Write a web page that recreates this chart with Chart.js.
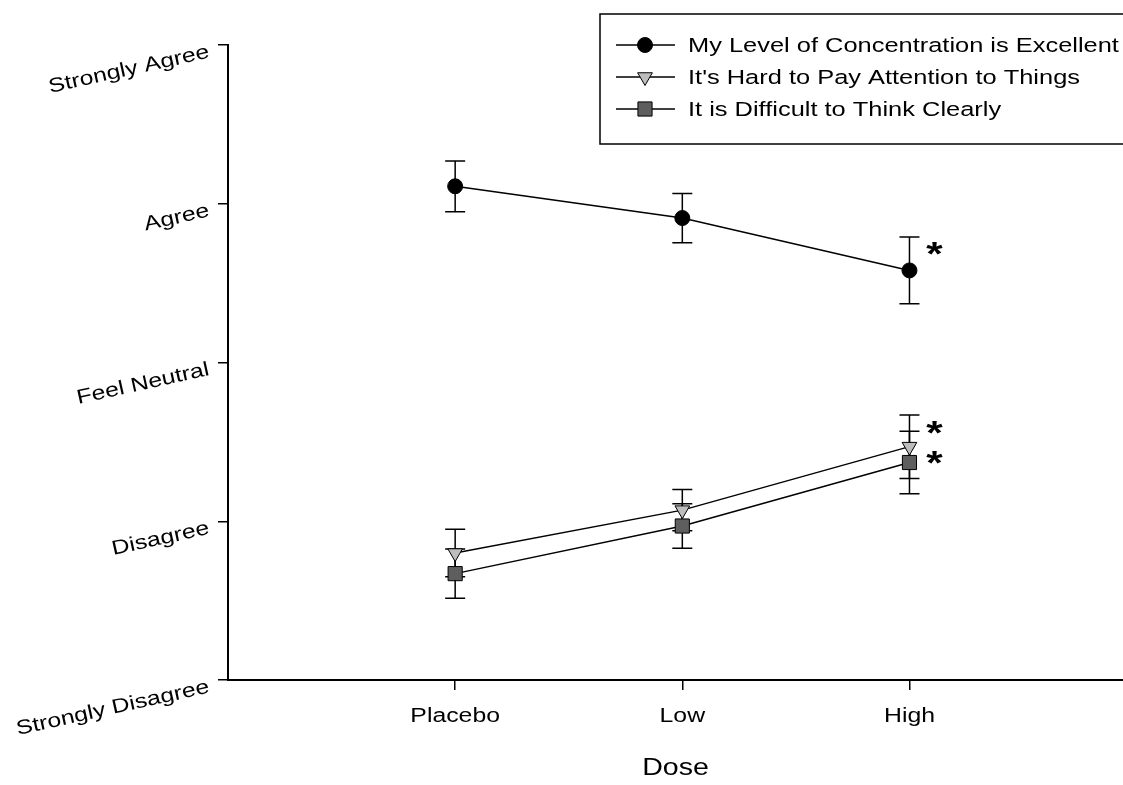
<!DOCTYPE html>
<html lang="en">
<head>
    <meta charset="UTF-8">
    <title>Dose</title>
    <style>
        body { margin: 0; background: #fff; }
        canvas { display: block; }
    </style>
</head>
<body>
    <canvas id="doseChart" width="1123" height="785"></canvas>

    <script src="https://cdn.jsdelivr.net/npm/chart.js"></script>
    <script>
        // Data
        const doseLabels = ['Placebo', 'Low', 'High'];
        const doseX = [1, 2, 3];
        const agreeLabels = ['Strongly Disagree', 'Disagree', 'Feel Neutral', 'Agree', 'Strongly Agree'];
        const seriesNames = [
            'My Level of Concentration is Excellent',
            "It's Hard to Pay Attention to Things",
            'It is Difficult to Think Clearly'
        ];
        const concMean = [3.11, 2.91, 2.58];
        const concErr = [0.16, 0.155, 0.21];
        const hardMean = [0.80, 1.07, 1.47];
        const hardErr = [0.15, 0.13, 0.20];
        const clearMean = [0.67, 0.97, 1.37];
        const clearErr = [0.155, 0.14, 0.197];
        // significance stars beside the High dose
        const starX = 3.11;
        const starY = [2.70, 1.575, 1.385];

        const FONT = '"Liberation Sans", Arial, sans-serif';
        const STRETCH = 1.24; // text in the original is drawn wide

        const toPoints = means => means.map((v, i) => ({ x: doseX[i], y: v }));

        // widen every text draw around its anchor, and report the wider size to the layout
        const canvas = document.getElementById('doseChart');
        const ctx2d = canvas.getContext('2d');
        const rawFill = ctx2d.fillText.bind(ctx2d);
        const rawMeasure = ctx2d.measureText.bind(ctx2d);
        ctx2d.fillText = function (text, x, y) {
            this.save();
            this.translate(x, y);
            this.scale(STRETCH, 1);
            rawFill(text, 0, 0);
            this.restore();
        };
        ctx2d.measureText = function (text) {
            const m = rawMeasure(text);
            return {
                width: m.width * STRETCH,
                actualBoundingBoxAscent: m.actualBoundingBoxAscent,
                actualBoundingBoxDescent: m.actualBoundingBoxDescent
            };
        };

        const errorBars = {
            id: 'errorBars',
            beforeDatasetsDraw(chart) {
                const { ctx, scales: { x, y } } = chart;
                ctx.save();
                ctx.strokeStyle = '#000';
                ctx.lineWidth = 1.5;
                chart.data.datasets.forEach(ds => {
                    ds.data.forEach((p, i) => {
                        const px = x.getPixelForValue(p.x);
                        const top = y.getPixelForValue(p.y + ds.errors[i]);
                        const bot = y.getPixelForValue(p.y - ds.errors[i]);
                        ctx.beginPath();
                        ctx.moveTo(px, top); ctx.lineTo(px, bot);
                        ctx.moveTo(px - 10, top); ctx.lineTo(px + 10, top);
                        ctx.moveTo(px - 10, bot); ctx.lineTo(px + 10, bot);
                        ctx.stroke();
                    });
                });
                ctx.restore();
            }
        };

        const stars = {
            id: 'stars',
            afterDatasetsDraw(chart) {
                const { ctx, scales: { x, y } } = chart;
                ctx.save();
                ctx.fillStyle = '#000';
                ctx.font = 'bold 34px ' + FONT;
                ctx.textAlign = 'center';
                ctx.textBaseline = 'alphabetic';
                starY.forEach(v => {
                    ctx.fillText('*', x.getPixelForValue(starX), y.getPixelForValue(v) + 14);
                });
                ctx.restore();
            }
        };

        const boxLegend = {
            id: 'boxLegend',
            afterDraw(chart) {
                const ctx = chart.ctx;
                ctx.save();
                ctx.fillStyle = '#fff';
                ctx.strokeStyle = '#000';
                ctx.lineWidth = 1.5;
                ctx.fillRect(600, 14, 530, 130);
                ctx.strokeRect(600, 14, 530, 130);
                chart.data.datasets.forEach((ds, i) => {
                    const cy = 45 + i * 32;
                    ctx.beginPath();
                    ctx.lineWidth = 1.5;
                    ctx.strokeStyle = '#000';
                    ctx.moveTo(616, cy); ctx.lineTo(675, cy);
                    ctx.stroke();
                    ctx.fillStyle = ds.pointBackgroundColor;
                    ctx.lineWidth = 1;
                    Chart.helpers.drawPoint(ctx, {
                        pointStyle: ds.pointStyle,
                        rotation: ds.pointRotation || 0,
                        radius: ds.pointRadius,
                        borderWidth: 1
                    }, 645, cy);
                    ctx.fillStyle = '#000';
                    ctx.font = '20.5px ' + FONT;
                    ctx.textAlign = 'left';
                    ctx.textBaseline = 'middle';
                    ctx.fillText(ds.label, 688, cy + 1);
                });
                ctx.restore();
            }
        };

        const common = {
            borderColor: '#000',
            borderWidth: 1.5,
            pointBorderColor: '#000',
            pointBorderWidth: 1,
            clip: false
        };

        const chart = new Chart(ctx2d, {
            type: 'line',
            data: {
                datasets: [
                    Object.assign({
                        label: seriesNames[0],
                        data: toPoints(concMean),
                        errors: concErr,
                        pointStyle: 'circle',
                        pointRadius: 7.5,
                        pointBackgroundColor: '#000'
                    }, common),
                    Object.assign({
                        label: seriesNames[1],
                        data: toPoints(hardMean),
                        errors: hardErr,
                        pointStyle: 'triangle',
                        pointRotation: 180,
                        pointRadius: 8.5,
                        pointBackgroundColor: '#bdbdbd'
                    }, common),
                    Object.assign({
                        label: seriesNames[2],
                        data: toPoints(clearMean),
                        errors: clearErr,
                        pointStyle: 'rect',
                        pointRadius: 10,
                        pointBackgroundColor: '#5e5e5e'
                    }, common)
                ]
            },
            options: {
                responsive: false,
                animation: false,
                devicePixelRatio: 1,
                layout: {
                    autoPadding: false,
                    padding: { top: 45, right: 0, bottom: 0, left: 0 }
                },
                plugins: {
                    legend: { display: false },
                    tooltip: { enabled: false }
                },
                scales: {
                    x: {
                        type: 'linear',
                        min: 0,
                        max: 3.94,
                        afterBuildTicks: scale => {
                            scale.ticks = doseX.map(v => ({ value: v }));
                        },
                        afterFit: scale => {
                            scale.height = 105;
                            scale.paddingLeft = 0;
                            scale.paddingRight = 0;
                        },
                        border: { color: '#000', width: 2 },
                        grid: {
                            drawOnChartArea: false,
                            color: '#000',
                            lineWidth: 1.5,
                            tickLength: 10
                        },
                        ticks: {
                            color: '#000',
                            padding: 14,
                            maxRotation: 0,
                            font: { family: FONT, size: 20 },
                            callback: (v, i) => doseLabels[i]
                        },
                        title: {
                            display: true,
                            text: 'Dose',
                            color: '#000',
                            font: { family: FONT, size: 23 },
                            padding: { top: 0, bottom: 3 }
                        }
                    },
                    y: {
                        min: 0,
                        max: 4,
                        afterFit: scale => { scale.width = 228; },
                        border: { color: '#000', width: 2 },
                        grid: {
                            drawOnChartArea: false,
                            color: '#000',
                            lineWidth: 1.5,
                            tickLength: 10
                        },
                        ticks: {
                            stepSize: 1,
                            color: '#000',
                            padding: 9,
                            labelOffset: 7,
                            minRotation: 12.5,
                            maxRotation: 12.5,
                            font: { family: FONT, size: 20 },
                            callback: v => agreeLabels[v]
                        }
                    }
                }
            },
            plugins: [errorBars, stars, boxLegend]
        });
    </script>
</body>
</html>
